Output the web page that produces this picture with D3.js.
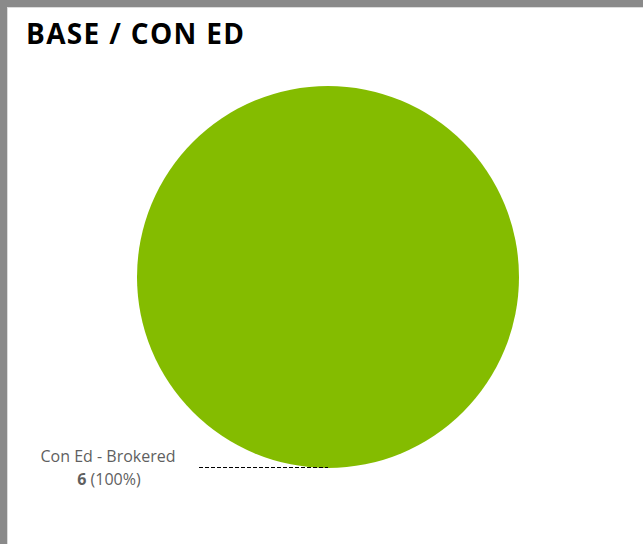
<!DOCTYPE html>
<html><head><meta charset="utf-8">
<script src="https://cdn.jsdelivr.net/npm/d3@7"></script>
<style>
html,body{margin:0;padding:0;background:#fff;}
svg{display:block;}
</style></head>
<body>
<script>
const title = "BASE / CON ED";
const categories = ["Con Ed - Brokered"];
const values = [6];
const colors = ["#84bc00"];

const W = 643, H = 544;
const svg = d3.select("body").append("svg").attr("width", W).attr("height", H);

// frame
svg.append("rect").attr("x",0).attr("y",0).attr("width",W).attr("height",H).attr("fill","#8a8a8a");
svg.append("rect").attr("x",7).attr("y",7).attr("width",W-7).attr("height",H-7).attr("fill","#dcdcdc");
svg.append("rect").attr("x",8).attr("y",8).attr("width",W-8).attr("height",H-8).attr("fill","#ffffff");

svg.append("text").attr("x",26).attr("y",44)
  .attr("font-family","'Open Sans', 'Noto Sans', sans-serif")
  .attr("font-weight","bold").attr("font-size",28).attr("fill","#000")
  .attr("textLength",218).attr("lengthAdjust","spacing")
  .text(title);

const cx = 328, cy = 277, r = 191;
const total = d3.sum(values);
const pie = d3.pie().sort(null).startAngle(Math.PI).endAngle(Math.PI*3);
const arc = d3.arc().innerRadius(0).outerRadius(r);
const g = svg.append("g").attr("transform",`translate(${cx},${cy})`);
const arcs = pie(values);
g.selectAll("path").data(arcs).enter().append("path")
  .attr("d", arc).attr("fill",(d,i)=>colors[i]);

// label
arcs.forEach((d,i)=>{
  const ang = Math.PI; // bottom of the pie
  const px = cx + r*Math.sin(ang), py = cy - r*Math.cos(ang) - 1;
  svg.append("line").attr("x1",199).attr("x2",px).attr("y1",py+0.5).attr("y2",py+0.5)
    .attr("stroke","#000").attr("stroke-width",1.2).attr("stroke-dasharray","4,2");
  const t = svg.append("text").attr("x",108).attr("y",462).attr("text-anchor","middle")
    .attr("font-family","'Open Sans', 'Noto Sans', sans-serif").attr("font-size",16).attr("fill","#5f5f5f");
  t.text(categories[i]);
  const t2 = svg.append("text").attr("x",109).attr("y",485).attr("text-anchor","middle")
    .attr("font-family","'Open Sans', 'Noto Sans', sans-serif").attr("font-size",16).attr("fill","#5f5f5f");
  t2.append("tspan").attr("font-weight","bold").text(values[i]);
  t2.append("tspan").text(" (" + d3.format(".0%")(values[i]/total) + ")");
});
</script>
</body></html>
